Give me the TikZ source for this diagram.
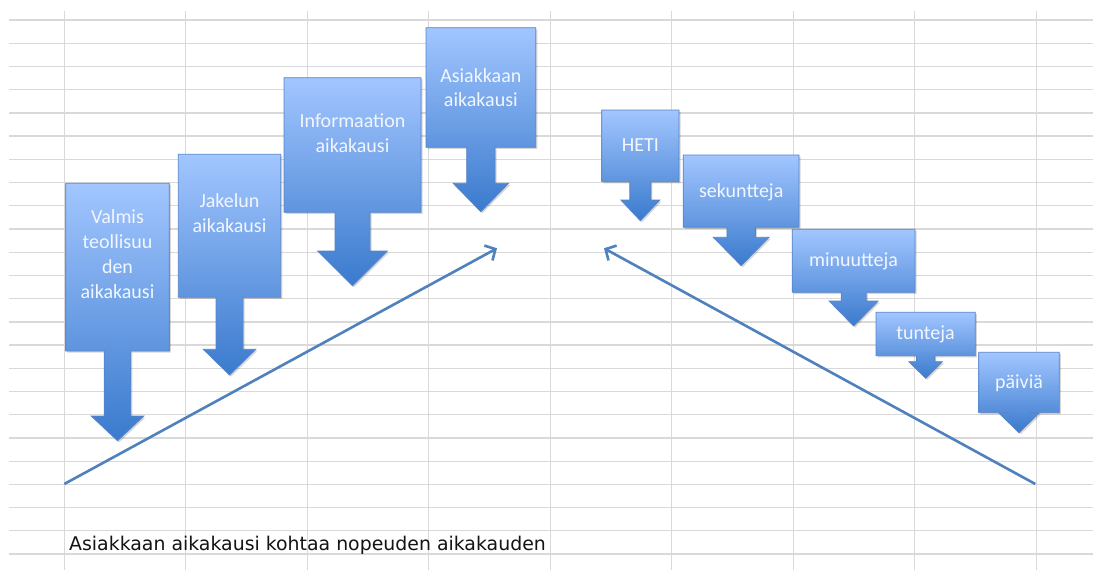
\documentclass[tikz,border=0pt]{standalone}
\usepackage{fontspec}
\setmainfont{Carlito}
\newfontfamily\capfont{DejaVu Sans}
\usetikzlibrary{arrows.meta}
\definecolor{gridc}{RGB}{217,217,217}
\definecolor{ctop}{RGB}{162,198,255}
\definecolor{cbot}{RGB}{58,122,205}
\definecolor{cedge}{RGB}{86,132,200}
\definecolor{arrc}{RGB}{79,129,189}
\definecolor{ctext}{RGB}{242,246,255}
\newcommand\dcallout[8]{%
  \pgfmathsetmacro\dcx{(#1+#2)/2}%
  \fill[black, opacity=0.16, shift={(1.6,1.6)}]
    (#1,#3) -- (#2,#3) -- (#2,#4) -- (\dcx+#5,#4) -- (\dcx+#5,#7) -- (\dcx+#6,#7)
    -- (\dcx,#8) -- (\dcx-#6,#7) -- (\dcx-#5,#7) -- (\dcx-#5,#4) -- (#1,#4) -- cycle;
  \shade[callshape]
    (#1,#3) -- (#2,#3) -- (#2,#4) -- (\dcx+#5,#4) -- (\dcx+#5,#7) -- (\dcx+#6,#7)
    -- (\dcx,#8) -- (\dcx-#6,#7) -- (\dcx-#5,#7) -- (\dcx-#5,#4) -- (#1,#4) -- cycle;
}
\begin{document}
\begin{tikzpicture}[x=1pt,y=-1pt,
  gridline/.style={draw=gridc, line width=1.3pt},
  callshape/.style={top color=ctop, bottom color=cbot, draw=cedge, line width=0.8pt},
  lbl/.style={text=ctext, font=\fontsize{20}{25}\selectfont, anchor=base, inner sep=0pt},
  bigarrow/.style={draw=arrc, line width=2.6pt, -{Straight Barb[length=8pt,width=17pt]}}]
\useasboundingbox (0,0) rectangle (1095,570);
\fill[white] (0,0) rectangle (1095,570);
% grid
\foreach \k in {0,...,23} {
  \draw[gridline] (9,20+\k*23.22) -- (1093,20+\k*23.22);
}
\foreach \k in {0,...,8} {
  \draw[gridline] (64.3+\k*121.5,11) -- (64.3+\k*121.5,570);
}
% callouts: x1, x2, ytop, ybot, shaft half-width, head half-width, head start y, tip y
\dcallout{65.7}{169.3}{183.3}{351}{13.3}{26.3}{416}{440.7}
\dcallout{178.3}{280.7}{154.3}{297.3}{13.5}{26.2}{349.3}{375}
\dcallout{284}{421}{77.7}{212.3}{17.5}{34.8}{251}{285.7}
\dcallout{426}{535.7}{27.7}{147.3}{14.2}{27.7}{183.3}{211.7}
\dcallout{601.7}{679}{110}{181.7}{10.5}{19.5}{200}{220.7}
\dcallout{683.3}{799}{155}{227.3}{14.2}{27.8}{237.3}{265.7}
\dcallout{792.3}{915}{229.3}{292.3}{12.5}{24.5}{301}{326}
\dcallout{876}{975.3}{312.3}{355.7}{9.2}{16.7}{361.7}{378.3}
\dcallout{978.7}{1059.3}{352.3}{412.7}{10}{20.5}{412.7}{432.7}
% labels
\node[lbl] (v1) at (117.5,223.8) {Valmis};
\node[lbl] (v2) at (117.5,248.8) {teollisuu};
\node[lbl] (v3) at (117.5,273.8) {den};
\node[lbl] (v4) at (117.5,298.8) {aikakausi};
\node[lbl] (j1) at (229.5,207.2) {Jakelun};
\node[lbl] (j2) at (229.5,232.2) {aikakausi};
\node[lbl] (i1) at (352.5,127.2) {Informaation};
\node[lbl] (i2) at (352.5,152.2) {aikakausi};
\node[lbl] (a1) at (480.8,82.2) {Asiakkaan};
\node[lbl] (a2) at (480.8,106.5) {aikakausi};
\node[lbl] (heti) at (640.3,151.7) {HETI};
\node[lbl] (sek) at (741.2,197.2) {sekuntteja};
\node[lbl] (min) at (853.6,266.5) {minuutteja};
\node[lbl] (tun) at (925.6,339.5) {tunteja};
\node[lbl] (pai) at (1019,388.2) {päiviä};
% long arrows
\coordinate (l0) at (64.3,484);
\coordinate (l1) at (497,248.3);
\coordinate (r0) at (1035.3,484);
\coordinate (r1) at (604,248.3);
\draw[bigarrow] (l0) -- (l1);
\draw[bigarrow] (r0) -- (r1);
% caption
\node[anchor=base west, inner sep=0pt, text=black!92, font=\capfont\fontsize{18.9}{22}\selectfont] (cap) at (69,550) {Asiakkaan aikakausi kohtaa nopeuden aikakauden};
\end{tikzpicture}
\end{document}
